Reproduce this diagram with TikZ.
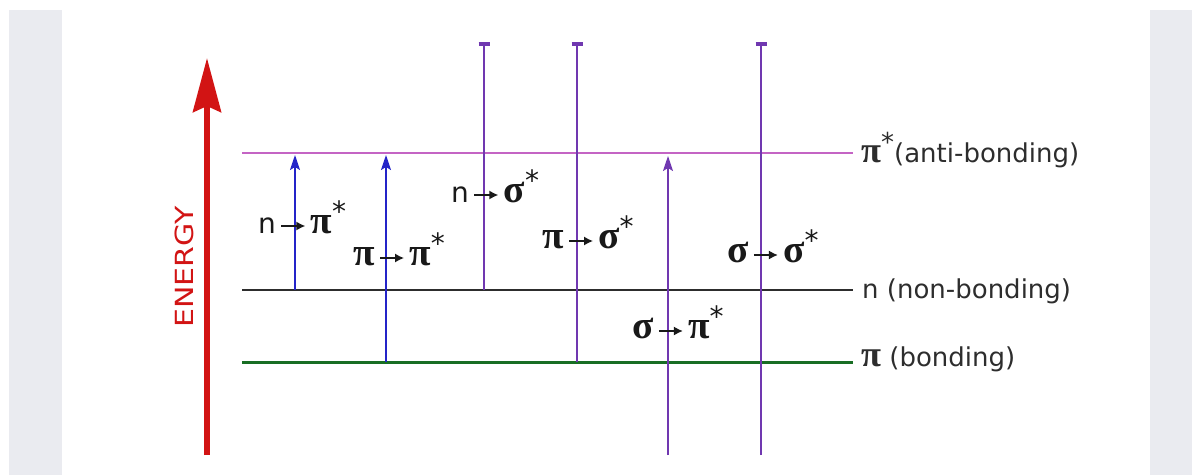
\documentclass[tikz,border=0pt]{standalone}
\usepackage{fontspec}
\usepackage{graphicx}
\usepackage{tikz}
\usetikzlibrary{arrows.meta}
\setmainfont{DejaVu Sans}
\newfontfamily\greekfont{Liberation Serif}
\definecolor{panelgray}{RGB}{234,235,240}
\definecolor{energyred}{RGB}{210,20,20}
\definecolor{levelpink}{RGB}{196,100,196}
\definecolor{levelgreen}{RGB}{24,110,36}
\definecolor{transblue}{RGB}{36,36,200}
\definecolor{transpurple}{RGB}{112,56,176}
\definecolor{textgray}{RGB}{45,45,45}

\newcommand{\gk}[1]{\scalebox{1.4}{\greekfont\bfseries #1}}
\newcommand{\upstar}{\raisebox{0.42em}{\scalebox{1.0}{*}}}
\newcommand{\tarrow}{\,\tikz[baseline=-7pt]\draw[-{Latex[length=9pt,width=9pt]},line width=1.4pt] (0pt,0pt) -- (24pt,0pt);\,}

\begin{document}
\begin{tikzpicture}[x=1pt, y=-1pt,
  level/.style={line width=2pt},
  trans/.style={line width=1.6pt},
  uparrow/.style={trans, -{Stealth[length=15pt,width=10pt,inset=3pt]}},
  barline/.style={trans, -{Bar[width=11pt,line width=3.5pt]}},
  translbl/.style={anchor=base west, inner sep=0pt, font=\fontsize{28}{28}\selectfont, text=black!90},
  levlbl/.style={anchor=base west, inner sep=0pt, font=\fontsize{26}{26}\selectfont, text=textgray}
]
\useasboundingbox (0,0) rectangle (1192,475);
\fill[panelgray] (9,10) rectangle (62,475);
\fill[panelgray] (1150,10) rectangle (1192,475);

% energy axis
\coordinate (ebot) at (207,455);
\coordinate (etop) at (207,58);
\draw[energyred, line width=6pt, -{Stealth[length=54pt,width=28pt,inset=6pt]}] (ebot) -- (etop);
\node[rotate=90, xscale=1.2, text=energyred, font=\fontsize{25}{25}\selectfont] (energy) at (184,267) {ENERGY};

% levels
\coordinate (pistarL) at (242,153);
\coordinate (pistarR) at (853,153);
\coordinate (nL) at (242,290);
\coordinate (nR) at (853,290);
\coordinate (piL) at (242,362);
\coordinate (piR) at (853,362);
\draw[level, levelpink] (pistarL) -- (pistarR);
\draw[level, textgray] (nL) -- (nR);
\draw[level, levelgreen, line width=3pt] (piL) -- (piR);

\node[levlbl] (pistarlbl) at (861,162) {\gk{π}\upstar(anti-bonding)};
\node[levlbl] (nlbl) at (862,298) {n (non-bonding)};
\node[levlbl] (pilbl) at (861,366) {\gk{π} (bonding)};

% transitions
\coordinate (t1a) at (295,290);
\coordinate (t1b) at (295,155);
\coordinate (t2a) at (386,362);
\coordinate (t2b) at (386,155);
\coordinate (t3a) at (484,290);
\coordinate (t3b) at (484,42);
\coordinate (t4a) at (577,362);
\coordinate (t4b) at (577,42);
\coordinate (t5a) at (668,455);
\coordinate (t5b) at (668,156);
\coordinate (t6a) at (761,455);
\coordinate (t6b) at (761,42);
\draw[uparrow, transblue] (t1a) -- (t1b);
\draw[uparrow, transblue] (t2a) -- (t2b);
\draw[barline, transpurple] (t3a) -- (t3b);
\draw[barline, transpurple] (t4a) -- (t4b);
\draw[uparrow, transpurple] (t5a) -- (t5b);
\draw[barline, transpurple] (t6a) -- (t6b);

\node[translbl] (npistar) at (258,233) {n\tarrow\gk{π}\upstar};
\node[translbl] (pipistar) at (353,265) {\gk{π}\tarrow\gk{π}\upstar};
\node[translbl] (nsigstar) at (451,202) {n\tarrow\gk{σ}\upstar};
\node[translbl] (pisigstar) at (542,248) {\gk{π}\tarrow\gk{σ}\upstar};
\node[translbl] (sigsigstar) at (727,262) {\gk{σ}\tarrow\gk{σ}\upstar};
\node[translbl] (sigpistar) at (632,338) {\gk{σ}\tarrow\gk{π}\upstar};
\end{tikzpicture}
\end{document}
